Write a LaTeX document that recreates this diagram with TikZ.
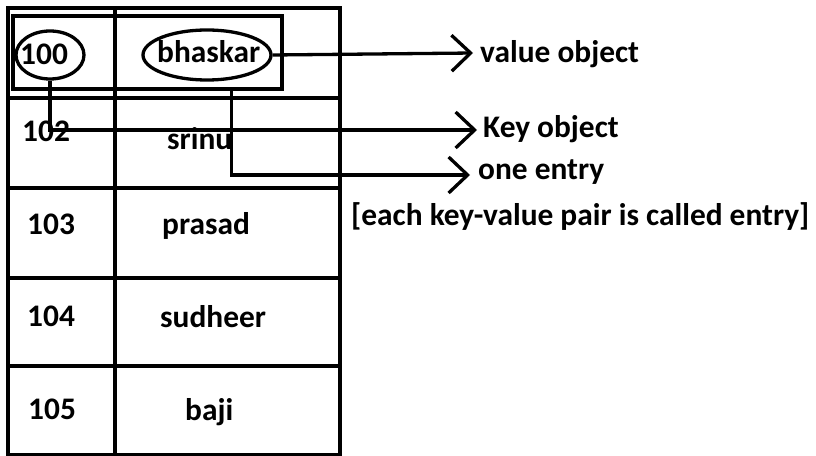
\documentclass[tikz,border=0pt]{standalone}
\usepackage{fontspec}
\setmainfont{Carlito}
\usetikzlibrary{arrows.meta,shapes.geometric,calc}
\tikzset{
  ln/.style={line width=3.3bp, draw=black},
  txt/.style={font=\fontsize{31.5}{36}\selectfont\bfseries, inner sep=0pt, text=black, anchor=base west},
  oval/.style={ellipse, ln, inner sep=0pt},
  arr/.style={ln, -{Straight Barb[length=19bp,width=36bp,line width=3.3bp]}},
}
\begin{document}
\begin{tikzpicture}[x=1bp,y=-1bp]
\useasboundingbox (0,0) rectangle (816,456);
% table
\draw[ln] (8,8) rectangle (340,455);
\draw[ln] (115,8) -- (115,455);
\foreach \yy in {98,188,278,366} \draw[ln] (8,\yy) -- (340,\yy);
% entry box
\node[ln, rectangle, minimum width=269bp, minimum height=73bp, inner sep=0pt] (entry) at (147.5,52.5) {};
% ellipses
\node[oval, minimum width=68bp, minimum height=48bp] (k100) at (50,55) {};
\node[txt] (t100) at (20,65) {100};
\node[oval, minimum width=128bp, minimum height=50bp] (vb) at (207,55) {};
\node[txt] (tb) at (157,63) {bhaskar};
% cell texts
\node[txt] (t102) at (22,142) {102};
\node[txt] (tsrinu) at (167,150) {srinu};
\node[txt] (t103) at (27,235) {103};
\node[txt] (tprasad) at (162,235) {prasad};
\node[txt] (t104) at (27,327) {104};
\node[txt] (tsud) at (160,328) {sudheer};
\node[txt] (t105) at (28,419) {105};
\node[txt] (tbaji) at (185,420) {baji};
% labels
\node[txt] (lval) at (480,63) {value object};
\node[txt] (lkey) at (483,138) {Key object};
\node[txt] (lone) at (478,180) {one entry};
\node[txt] (lnote) at (351,226) {[each key-value pair is called entry]};
% connectors
\coordinate (vtip) at (473,53);
\coordinate (ktip) at (477,130);
\coordinate (etip) at (470,175);
\coordinate (estart) at ($(entry.south west)+(220,0)$);
\draw[arr] (vb.east) -- (vtip);
\draw[arr] (k100.south) |- (ktip);
\draw[arr] (estart) |- (etip);
\end{tikzpicture}
\end{document}
